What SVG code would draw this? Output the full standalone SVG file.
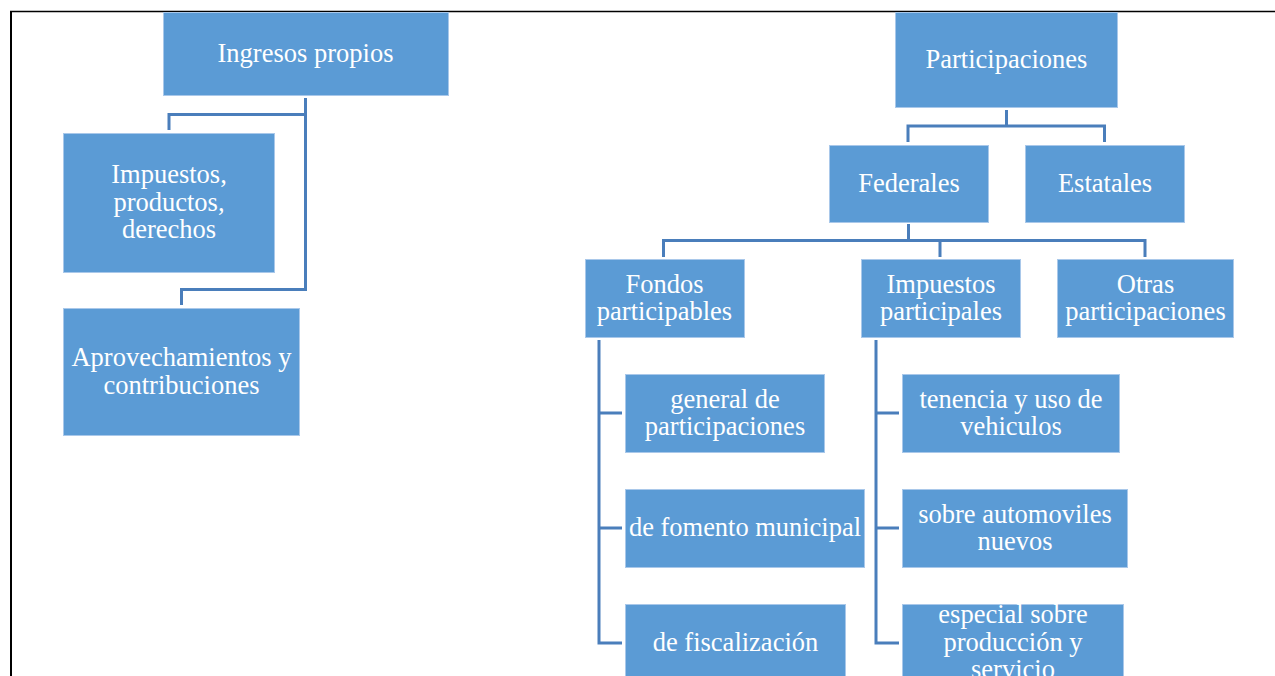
<svg xmlns="http://www.w3.org/2000/svg" width="1275" height="676" viewBox="0 0 1275 676">
<style>
.box{fill:#5B9BD5;stroke:#A9C8EA;stroke-width:1}
.t{font-family:"Liberation Serif","Times New Roman",serif;font-size:26.5px;fill:#FFFFFF;text-anchor:middle}
.c{fill:none;stroke:#4A7EBB;stroke-width:3}
.frame{stroke:#000;fill:none}
</style>
<rect width="1275" height="676" fill="#FFFFFF"/>
<line class="frame" x1="10" y1="11.5" x2="1275" y2="11.5" stroke-width="1.5"/>
<line class="frame" x1="11" y1="11" x2="11" y2="676" stroke-width="2"/>
<g id="connectors">
<path class="c" d="M305.5,98 V289.5 H181.5 V305"/>
<path class="c" d="M305.5,114.5 H169 V130"/>
<path class="c" d="M1006.5,110 V126 H908 V142 M1006.5,126 H1104.5 V142"/>
<path class="c" d="M908.5,224 V240.5 H663.5 V257 M908.5,240.5 H1145 V257 M940,240.5 V257"/>
<path class="c" d="M599,340 V643 H622 M599,413 H622 M599,528 H622"/>
<path class="c" d="M876,340 V643 H899 M876,413 H899 M876,528 H899"/>
</g>
<g id="n-ingresos"><rect class="box" x="163.5" y="12.5" width="285" height="83"/><text class="t" x="305.5" y="62">Ingresos propios</text></g>
<g id="n-impuestos"><rect class="box" x="63.5" y="133.5" width="211" height="139"/><text class="t" x="169" y="183">Impuestos,</text><text class="t" x="169" y="210.5">productos,</text><text class="t" x="169" y="238">derechos</text></g>
<g id="n-aprovechamientos"><rect class="box" x="63.5" y="308.5" width="236" height="127"/><text class="t" x="181.5" y="366">Aprovechamientos y</text><text class="t" x="181.5" y="394">contribuciones</text></g>
<g id="n-participaciones"><rect class="box" x="895.5" y="12.5" width="222" height="95"/><text class="t" x="1006.5" y="68">Participaciones</text></g>
<g id="n-federales"><rect class="box" x="829.5" y="145.5" width="159" height="77"/><text class="t" x="909" y="192">Federales</text></g>
<g id="n-estatales"><rect class="box" x="1025.5" y="145.5" width="159" height="77"/><text class="t" x="1105" y="192">Estatales</text></g>
<g id="n-fondos"><rect class="box" x="585.5" y="259.5" width="159" height="78"/><text class="t" x="664.5" y="293">Fondos</text><text class="t" x="664.5" y="320">participables</text></g>
<g id="n-impuestos-part"><rect class="box" x="861.5" y="259.5" width="159" height="78"/><text class="t" x="941" y="293">Impuestos</text><text class="t" x="941" y="320">participales</text></g>
<g id="n-otras"><rect class="box" x="1057.5" y="259.5" width="176" height="78"/><text class="t" x="1145.5" y="293">Otras</text><text class="t" x="1145.5" y="320">participaciones</text></g>
<g id="n-general"><rect class="box" x="625.5" y="374.5" width="199" height="78"/><text class="t" x="725" y="408">general de</text><text class="t" x="725" y="435">participaciones</text></g>
<g id="n-fomento"><rect class="box" x="625.5" y="489.5" width="239" height="78"/><text class="t" x="745" y="536" textLength="232" lengthAdjust="spacing">de fomento municipal</text></g>
<g id="n-fiscalizacion"><rect class="box" x="625.5" y="604.5" width="220" height="80"/><text class="t" x="735.5" y="651">de fiscalización</text></g>
<g id="n-tenencia"><rect class="box" x="902.5" y="374.5" width="217" height="78"/><text class="t" x="1011" y="408">tenencia y uso de</text><text class="t" x="1011" y="435">vehiculos</text></g>
<g id="n-automoviles"><rect class="box" x="902.5" y="489.5" width="225" height="78"/><text class="t" x="1015" y="523">sobre automoviles</text><text class="t" x="1015" y="550">nuevos</text></g>
<g id="n-especial"><rect class="box" x="902.5" y="604.5" width="221" height="80"/><text class="t" x="1013" y="623">especial sobre</text><text class="t" x="1013" y="651">producción y</text><text class="t" x="1013" y="678">servicio</text></g>
</svg>
